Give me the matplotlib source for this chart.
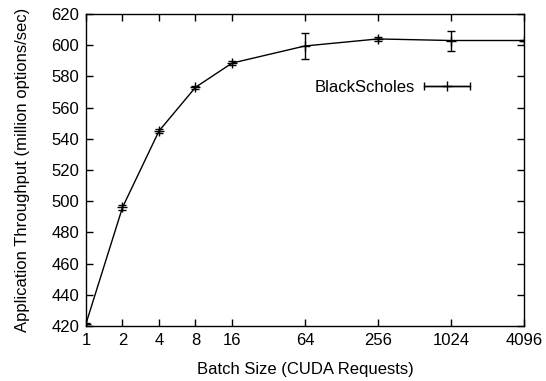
import numpy as np
import matplotlib
matplotlib.use("Agg")
import matplotlib.pyplot as plt
from matplotlib.legend_handler import HandlerErrorbar

plt.rcParams['font.family'] = ['Liberation Sans', 'DejaVu Sans']

batch_sizes = [1, 2, 4, 8, 16, 64, 256, 1024, 4096]
throughput = [421.5, 496, 545, 573, 588.5, 599.5, 604, 603, 603]
err_lo = [0.5, 1.5, 1.5, 1.0, 1.5, 8.5, 1.5, 6.5, 0.5]
err_hi = [0.5, 1.5, 1.5, 1.0, 1.5, 8.0, 1.5, 6.0, 0.5]

x = np.log2(batch_sizes)

fig = plt.figure(figsize=(5.46, 3.81), dpi=100)
ax = fig.add_axes([0.1575, 0.1444, 0.8022, 0.8189])

ax.errorbar(x, throughput, yerr=[err_lo, err_hi], color='black', linewidth=1,
            elinewidth=1, capsize=3, capthick=1, marker='+', markersize=7,
            markeredgewidth=1)

# gnuplot-style key: horizontal bar with end caps
proxy = ax.errorbar([np.nan], [np.nan], xerr=[[0.0], [0.0]], color='black',
                    linewidth=1, elinewidth=1, capsize=3, capthick=1,
                    marker='+', markersize=7, markeredgewidth=1,
                    label='BlackScholes')

ax.set_xlim(0, 12)
ax.set_ylim(420, 620)
ax.set_xticks(x)
ax.set_xticklabels([str(b) for b in batch_sizes])
ax.set_yticks(np.arange(420, 621, 20))

ax.tick_params(direction='in', length=5, width=1, top=True, right=True,
               labelsize=12, pad=5)
for s in ax.spines.values():
    s.set_linewidth(1)

ax.set_xlabel('Batch Size (CUDA Requests)', fontsize=12, labelpad=10)
ax.set_ylabel('Application Throughput (million options/sec)', fontsize=12,
              labelpad=15)

ax.legend(handles=[proxy], loc='center right', bbox_to_anchor=(0.91, 0.765),
          frameon=False, fontsize=12, markerfirst=False, handlelength=2.75,
          handletextpad=0.55,
          handler_map={proxy: HandlerErrorbar(xerr_size=1.375)})

fig.savefig('out.png', dpi=100)
